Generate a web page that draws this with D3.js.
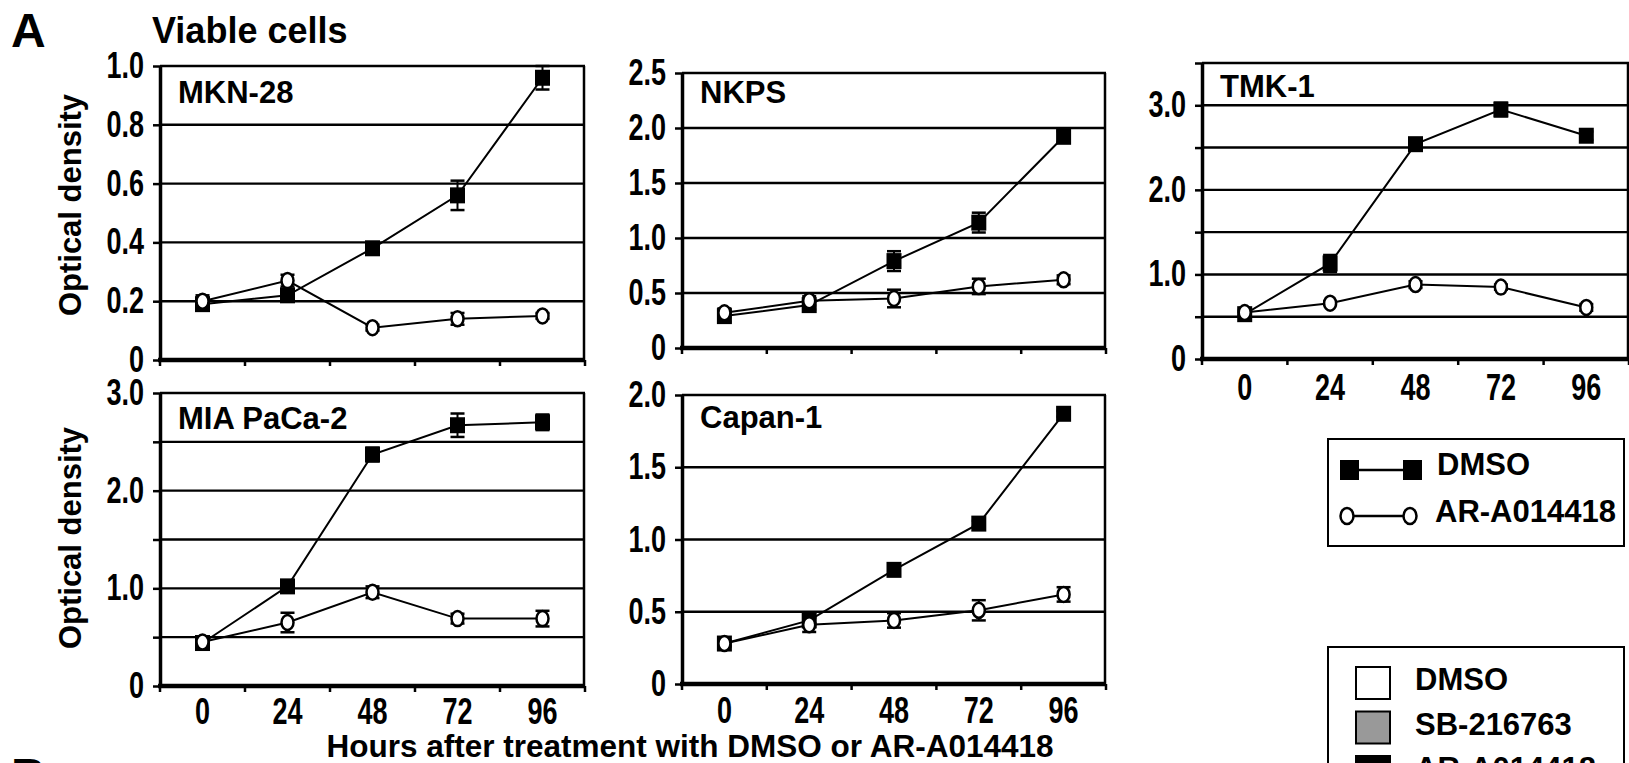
<!DOCTYPE html>
<html>
<head>
<meta charset="utf-8">
<script src="https://cdn.jsdelivr.net/npm/d3@7"></script>
<style>
  body { margin: 0; background: #fff; }
  svg { display: block; }
  text { font-family: "Liberation Sans", Arial, sans-serif; font-weight: bold; fill: #000; }
  .tick text { font-family: "Liberation Sans", Arial, sans-serif; font-size: 36px; font-weight: bold; }
</style>
</head>
<body>
<svg width="1629" height="763"></svg>
<script>
var svg = d3.select("svg");

// x categories (hours after treatment)
var hours = ["0", "24", "48", "72", "96"];

// optical density
var mkn28Dmso = [0.19, 0.22, 0.38, 0.56, 0.96];
var mkn28DmsoErr = [0.02, 0.02, 0.02, 0.05, 0.04];
var mkn28Ar = [0.20, 0.27, 0.11, 0.14, 0.15];
var mkn28ArErr = [0.02, 0.02, 0.01, 0.02, 0.01];

var nkpsDmso = [0.29, 0.39, 0.79, 1.14, 1.92];
var nkpsDmsoErr = [0.05, 0.04, 0.09, 0.09, 0.05];
var nkpsAr = [0.32, 0.43, 0.45, 0.56, 0.62];
var nkpsArErr = [0.04, 0.04, 0.08, 0.07, 0.04];

var tmk1Dmso = [0.53, 1.13, 2.54, 2.95, 2.64];
var tmk1DmsoErr = [0.03, 0.10, 0.04, 0.08, 0.05];
var tmk1Ar = [0.55, 0.66, 0.88, 0.85, 0.61];
var tmk1ArErr = [0.03, 0.02, 0.04, 0.03, 0.04];

var miaDmso = [0.44, 1.02, 2.37, 2.67, 2.70];
var miaDmsoErr = [0.03, 0.05, 0.07, 0.12, 0.08];
var miaAr = [0.45, 0.65, 0.96, 0.69, 0.69];
var miaArErr = [0.03, 0.10, 0.06, 0.05, 0.08];

var capanDmso = [0.28, 0.44, 0.79, 1.11, 1.87];
var capanDmsoErr = [0.02, 0.02, 0.02, 0.02, 0.02];
var capanAr = [0.28, 0.41, 0.44, 0.51, 0.62];
var capanArErr = [0.02, 0.05, 0.05, 0.07, 0.05];

// gridlines / tick marks and which of them carry a label
var mkn28Grid = [0, 0.2, 0.4, 0.6, 0.8, 1.0];
var mkn28Labels = [0, 0.2, 0.4, 0.6, 0.8, 1.0];
var nkpsGrid = [0, 0.5, 1.0, 1.5, 2.0, 2.5];
var nkpsLabels = [0, 0.5, 1.0, 1.5, 2.0, 2.5];
var tmk1Grid = [0, 0.5, 1.0, 1.5, 2.0, 2.5, 3.0, 3.5];
var tmk1Labels = [0, 1.0, 2.0, 3.0];
var miaGrid = [0, 0.5, 1.0, 1.5, 2.0, 2.5, 3.0];
var miaLabels = [0, 1.0, 2.0, 3.0];
var capanGrid = [0, 0.5, 1.0, 1.5, 2.0];
var capanLabels = [0, 0.5, 1.0, 1.5, 2.0];

var legendLines = ["DMSO", "AR-A014418"];
var legendBars = ["DMSO", "SB-216763", "AR-A014418"];
var barColors = ["#fff", "#999", "#000"];

var narrow = 0.75;   // tick labels are set in a condensed face

var panels = [
  {name: "MKN-28", dmso: mkn28Dmso, dmsoErr: mkn28DmsoErr, ar: mkn28Ar, arErr: mkn28ArErr,
   grid: mkn28Grid, labels: mkn28Labels, left: 160, right: 585, top: 66, bottom: 360, nameY: 103, xTicks: false},
  {name: "NKPS", dmso: nkpsDmso, dmsoErr: nkpsDmsoErr, ar: nkpsAr, arErr: nkpsArErr,
   grid: nkpsGrid, labels: nkpsLabels, left: 682, right: 1106, top: 73, bottom: 348, nameY: 103, xTicks: false},
  {name: "TMK-1", dmso: tmk1Dmso, dmsoErr: tmk1DmsoErr, ar: tmk1Ar, arErr: tmk1ArErr,
   grid: tmk1Grid, labels: tmk1Labels, left: 1202, right: 1629, top: 63, bottom: 359, nameY: 97, xTicks: true, pad: 15},
  {name: "MIA PaCa-2", dmso: miaDmso, dmsoErr: miaDmsoErr, ar: miaAr, arErr: miaArErr,
   grid: miaGrid, labels: miaLabels, left: 160, right: 585, top: 393, bottom: 686, nameY: 429, xTicks: true, pad: 12},
  {name: "Capan-1", dmso: capanDmso, dmsoErr: capanDmsoErr, ar: capanAr, arErr: capanArErr,
   grid: capanGrid, labels: capanLabels, left: 682, right: 1106, top: 395, bottom: 684, nameY: 428, xTicks: true, pad: 13}
];

function drawPanel(p) {
  var g = svg.append("g");
  var x = d3.scaleBand().domain(hours).range([p.left, p.right]);
  var y = d3.scaleLinear().domain([0, d3.max(p.grid)]).range([p.bottom, p.top]);
  var cx = function(i) { return x(hours[i]) + x.bandwidth() / 2; };

  // horizontal gridlines
  g.selectAll(".grid").data(p.grid.slice(1)).enter().append("line")
    .attr("x1", p.left).attr("x2", p.right)
    .attr("y1", function(d) { return y(d); }).attr("y2", function(d) { return y(d); })
    .attr("stroke", "#000").attr("stroke-width", 2.4);
  // right border
  g.append("line").attr("x1", p.right - 1).attr("x2", p.right - 1)
    .attr("y1", p.top).attr("y2", p.bottom)
    .attr("stroke", "#000").attr("stroke-width", 2.5);

  // y axis
  var ya = g.append("g").attr("transform", "translate(" + p.left + ",0)")
    .call(d3.axisLeft(y).tickValues(p.grid).tickSize(7).tickSizeOuter(0).tickPadding(9)
      .tickFormat(function(d) {
        if (p.labels.indexOf(d) < 0) return "";
        return d === 0 ? "0" : d3.format(".1f")(d);
      }));
  ya.select(".domain").attr("stroke-width", 3.5);
  ya.selectAll(".tick line").attr("stroke-width", 2.5);
  ya.selectAll(".tick text").attr("x", -16 / narrow).attr("transform", "scale(" + narrow + ",1)");

  // x axis line and band-boundary ticks
  g.append("line").attr("x1", p.left - 2).attr("x2", p.right)
    .attr("y1", p.bottom).attr("y2", p.bottom)
    .attr("stroke", "#000").attr("stroke-width", 4.5);
  g.selectAll(".bt").data(d3.range(hours.length + 1)).enter().append("line")
    .attr("x1", function(i) { return p.left + i * x.step(); })
    .attr("x2", function(i) { return p.left + i * x.step(); })
    .attr("y1", p.bottom).attr("y2", p.bottom + 6)
    .attr("stroke", "#000").attr("stroke-width", 2.5);

  if (p.xTicks) {
    var xa = g.append("g").attr("transform", "translate(0," + p.bottom + ")")
      .call(d3.axisBottom(x).tickSize(0).tickPadding(p.pad));
    xa.select(".domain").remove();
    xa.selectAll(".tick text").attr("transform", "scale(" + narrow + ",1)");
  }

  // panel name
  g.append("text").attr("x", p.left + 18).attr("y", p.nameY)
    .attr("font-size", 31).text(p.name);

  var line = d3.line().x(function(d, i) { return cx(i); }).y(function(d) { return y(d); });
  g.append("path").datum(p.dmso).attr("d", line)
    .attr("fill", "none").attr("stroke", "#000").attr("stroke-width", 2);
  g.append("path").datum(p.ar).attr("d", line)
    .attr("fill", "none").attr("stroke", "#000").attr("stroke-width", 2);

  // error bars
  [[p.dmso, p.dmsoErr], [p.ar, p.arErr]].forEach(function(s) {
    var vals = s[0], errs = s[1];
    vals.forEach(function(v, i) {
      var lo = y(v - errs[i]), hi = y(v + errs[i]);
      g.append("line").attr("x1", cx(i)).attr("x2", cx(i)).attr("y1", lo).attr("y2", hi)
        .attr("stroke", "#000").attr("stroke-width", 2);
      [lo, hi].forEach(function(yy) {
        g.append("line").attr("x1", cx(i) - 7).attr("x2", cx(i) + 7).attr("y1", yy).attr("y2", yy)
          .attr("stroke", "#000").attr("stroke-width", 2.5);
      });
    });
  });

  // markers
  g.selectAll(".sq").data(p.dmso).enter().append("rect")
    .attr("x", function(d, i) { return cx(i) - 7.5; })
    .attr("y", function(d) { return y(d) - 8; })
    .attr("width", 15).attr("height", 16).attr("fill", "#000");
  g.selectAll(".ci").data(p.ar).enter().append("ellipse")
    .attr("cx", function(d, i) { return cx(i); })
    .attr("cy", function(d) { return y(d); })
    .attr("rx", 6).attr("ry", 7.5)
    .attr("fill", "#fff").attr("stroke", "#000").attr("stroke-width", 2.5);
}

panels.forEach(drawPanel);

// figure letters and titles
svg.append("text").attr("x", 11).attr("y", 47).attr("font-size", 48).text("A");
svg.append("text").attr("x", 11).attr("y", 792).attr("font-size", 48).text("B");
svg.append("text").attr("x", 152).attr("y", 43).attr("font-size", 36).text("Viable cells");
svg.append("text").attr("x", 690).attr("y", 757).attr("text-anchor", "middle")
  .attr("font-size", 31.5).text("Hours after treatment with DMSO or AR-A014418");
[205, 538].forEach(function(cy) {
  svg.append("text").attr("transform", "translate(81," + cy + ") rotate(-90)")
    .attr("text-anchor", "middle").attr("font-size", 31).text("Optical density");
});

// line legend
var lg = svg.append("g");
lg.append("rect").attr("x", 1328).attr("y", 439).attr("width", 296).attr("height", 107)
  .attr("fill", "none").attr("stroke", "#000").attr("stroke-width", 2);
legendLines.forEach(function(name, i) {
  var yy = 470 + i * 46;
  lg.append("line").attr("x1", 1347).attr("x2", 1413).attr("y1", yy).attr("y2", yy)
    .attr("stroke", "#000").attr("stroke-width", 2.5);
  [1349, 1412].forEach(function(xx) {
    if (i === 0) {
      lg.append("rect").attr("x", xx - 9).attr("y", yy - 10).attr("width", 19).attr("height", 20).attr("fill", "#000");
    } else {
      lg.append("ellipse").attr("cx", xx - 2).attr("cy", yy).attr("rx", 6.5).attr("ry", 8)
        .attr("fill", "#fff").attr("stroke", "#000").attr("stroke-width", 2.5);
    }
  });
  lg.append("text").attr("x", i === 0 ? 1437 : 1435).attr("y", yy + 5 + (i === 0 ? 0 : 1))
    .attr("font-size", 31).text(name);
});

// bar legend (cut off by the crop)
var bg = svg.append("g");
bg.append("rect").attr("x", 1328).attr("y", 647).attr("width", 296).attr("height", 160)
  .attr("fill", "none").attr("stroke", "#000").attr("stroke-width", 2);
legendBars.forEach(function(name, i) {
  var yy = 667 + i * 44.5;
  bg.append("rect").attr("x", 1356).attr("y", yy).attr("width", 34).attr("height", 32)
    .attr("fill", barColors[i]).attr("stroke", "#000").attr("stroke-width", 2);
  bg.append("text").attr("x", 1415).attr("y", yy + 23).attr("font-size", 31).text(name);
});
</script>
</body>
</html>
